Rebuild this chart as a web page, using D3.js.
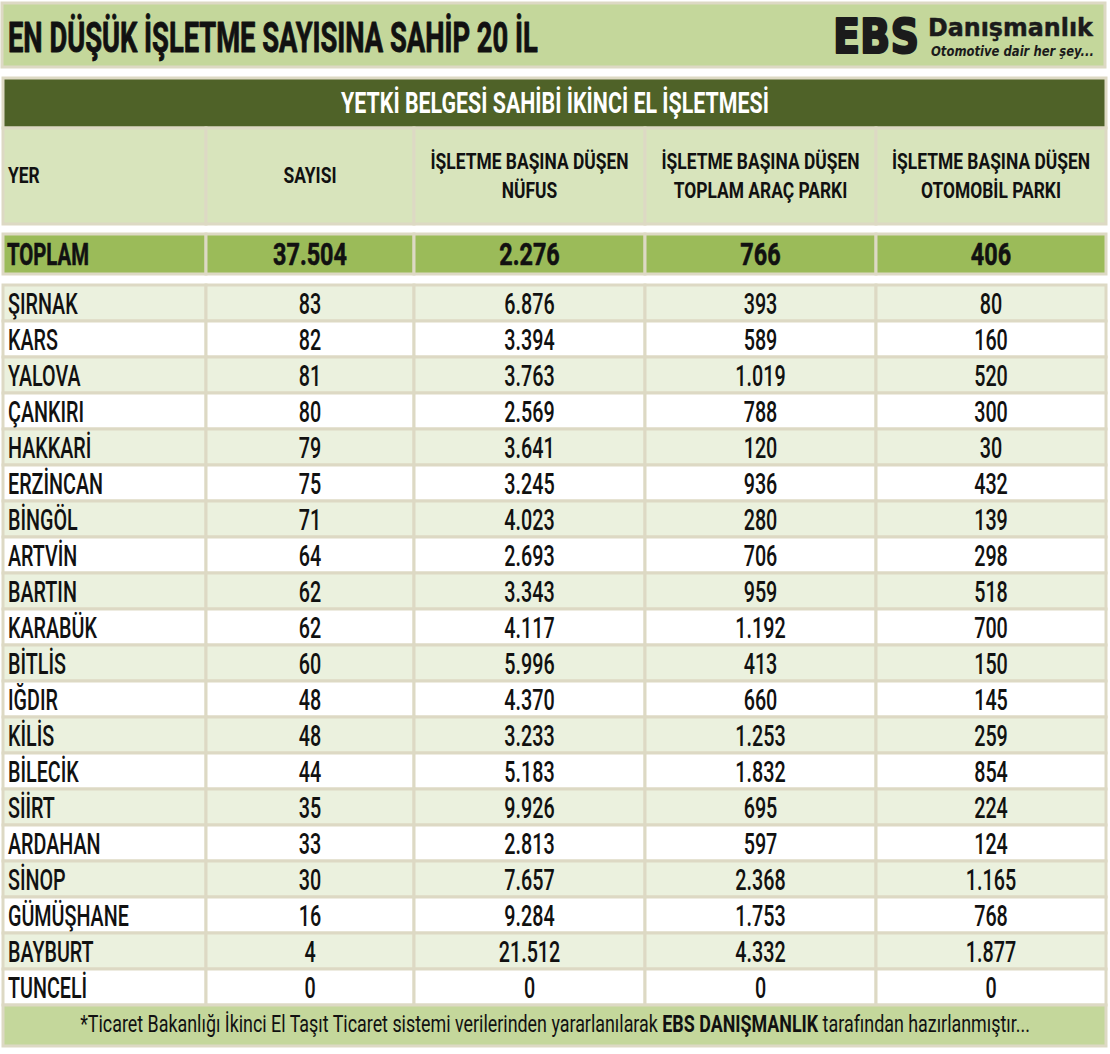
<!DOCTYPE html>
<html><head><meta charset="utf-8">
<script src="https://cdn.jsdelivr.net/npm/d3@7"></script>
<style>html,body{margin:0;padding:0;background:#fff;}svg{display:block;}</style>
</head><body>
<script>
const title = "EN DÜŞÜK İŞLETME SAYISINA SAHİP 20 İL";
const bandTitle = "YETKİ BELGESİ SAHİBİ İKİNCİ EL İŞLETMESİ";
const columnHeaders = [["YER"], ["SAYISI"], ["İŞLETME BAŞINA DÜŞEN", "NÜFUS"], ["İŞLETME BAŞINA DÜŞEN", "TOPLAM ARAÇ PARKI"], ["İŞLETME BAŞINA DÜŞEN", "OTOMOBİL PARKI"]];
const totalLabel = "TOPLAM";
const totals = [37504, 2276, 766, 406];
const provinces = ["ŞIRNAK","KARS","YALOVA","ÇANKIRI","HAKKARİ","ERZİNCAN","BİNGÖL","ARTVİN","BARTIN","KARABÜK","BİTLİS","IĞDIR","KİLİS","BİLECİK","SİİRT","ARDAHAN","SİNOP","GÜMÜŞHANE","BAYBURT","TUNCELİ"];
const counts = [83,82,81,80,79,75,71,64,62,62,60,48,48,44,35,33,30,16,4,0];
const populationPer = [6876,3394,3763,2569,3641,3245,4023,2693,3343,4117,5996,4370,3233,5183,9926,2813,7657,9284,21512,0];
const vehiclesPer = [393,589,1019,788,120,936,280,706,959,1192,413,660,1253,1832,695,597,2368,1753,4332,0];
const carsPer = [80,160,520,300,30,432,139,298,518,700,150,145,259,854,224,124,1165,768,1877,0];
const footerParts = [["*Ticaret Bakanlığı İkinci El Taşıt Ticaret sistemi verilerinden yararlanılarak ", false], ["EBS DANIŞMANLIK", true], [" tarafından hazırlanmıştır...", false]];
const logoMain = "EBS", logoName = "Danışmanlık", logoTag = "Otomotive dair her şey...";

const W = 1110, H = 1054;
const C = {border:"#ddd9c4", title:"#c4d79b", band:"#4f6228", head:"#d8e4bc", total:"#9bbb59", light:"#ebf1de", footer:"#c4d79b", ink:"#111"};
const FONT = "Roboto, 'DejaVu Sans', sans-serif";

const fmt = d3.formatLocale({decimal:",", thousands:".", grouping:[3], currency:["","₺"]}).format(",d");

const svg = d3.select("body").append("svg").attr("width", W).attr("height", H);

function measure(str, size, weight, family, style) {
  const t = svg.append("text").attr("font-family", family || FONT).attr("font-size", size)
    .attr("font-weight", weight).attr("font-style", style || "normal").text(str);
  const w = t.node().getComputedTextLength(); t.remove(); return w;
}
function label(parent, str, x, y, o) {
  const t = parent.append("text")
    .attr("transform", `translate(${x},${y}) scale(${o.sx},1)`)
    .attr("text-anchor", o.anchor || "middle")
    .attr("font-family", o.family || FONT).attr("font-size", o.size)
    .attr("font-weight", o.weight).attr("font-style", o.style || "normal")
    .attr("fill", o.fill || C.ink).text(str);
  if (o.sw) t.attr("stroke", o.fill || C.ink).attr("stroke-width", o.sw).attr("stroke-linejoin", "round");
  return t;
}

const S = {
  title: {size:42, weight:700, sw:0.9}, band: {size:30, weight:700, fill:"#fff"},
  head: {size:22.5, weight:700}, total: {size:32, weight:700, sw:0.6}, totalNum: {size:32, weight:700, sw:0.6},
  data: {size:29, weight:500}
};
S.title.sx = 530 / measure(title, 42, 700);
S.band.sx = 428 / measure(bandTitle, 30, 700);
S.head.sx = 198 / measure(columnHeaders[2][0], 22.5, 700);
S.total.sx = 82 / measure(totalLabel, 32, 700);
S.totalNum.sx = 74 / measure(fmt(totals[0]), 32, 700);
S.data.sx = 95 / measure("ERZİNCAN", 29, 500);

// Title box
svg.append("rect").attr("x", 2).attr("y", 3).attr("width", 1103).attr("height", 64)
  .attr("fill", C.title).attr("stroke", C.border).attr("stroke-width", 3);
label(svg, title, 8, 52, {...S.title, anchor:"start"});

// Logo
const lg = svg.append("g");
const ebsSx = 86 / measure(logoMain, 48, 900, "'DejaVu Sans'");
label(lg, logoMain, 833, 53, {size:48, weight:900, family:"'DejaVu Sans'", sx:ebsSx, anchor:"start", fill:"#1b1b1b", sw:2.2});
const nmSx = 165 / measure(logoName, 25, 700, "'DejaVu Sans'");
label(lg, logoName, 928, 36, {size:25, weight:700, family:"'DejaVu Sans'", sx:nmSx, anchor:"start", fill:"#1b1b1b", sw:0.5});
const tgSx = 163 / measure(logoTag, 14.5, 700, "'DejaVu Sans'", "italic");
label(lg, logoTag, 931, 56, {size:14.5, weight:700, family:"'DejaVu Sans'", style:"italic", sx:tgSx, anchor:"start", fill:"#1b1b1b"});

// Table geometry
const colEdges = [3, 206, 414, 645, 876, 1106];
const colX = i => colEdges[i], colW = i => colEdges[i+1] - colEdges[i];
const colC = i => (colEdges[i] + colEdges[i+1]) / 2;
const stroke = sel => sel.attr("stroke", C.border).attr("stroke-width", 3);

// Band
stroke(svg.append("rect").attr("x", 3).attr("y", 78).attr("width", 1103).attr("height", 50).attr("fill", C.band));
label(svg, bandTitle, 555, 113, S.band);

// Column headers
const hg = svg.append("g");
columnHeaders.forEach((lines, i) => {
  stroke(hg.append("rect").attr("x", colX(i)).attr("y", 128).attr("width", colW(i)).attr("height", 96).attr("fill", C.head));
  const x = i === 0 ? 8 : colC(i);
  const anchor = i === 0 ? "start" : "middle";
  if (lines.length === 1) label(hg, lines[0], x, 183, {...S.head, anchor});
  else lines.forEach((ln, k) => label(hg, ln, x, 169 + k * 29, {...S.head, anchor}));
});

// Total row
const tg = svg.append("g");
[totalLabel, ...totals.map(fmt)].forEach((v, i) => {
  stroke(tg.append("rect").attr("x", colX(i)).attr("y", 234).attr("width", colW(i)).attr("height", 40).attr("fill", C.total));
  if (i === 0) label(tg, v, 7, 265, {...S.total, anchor:"start"});
  else label(tg, v, colC(i), 265, S.totalNum);
});

// Data rows
const y = d3.scaleBand().domain(provinces).range([285, 1005]).padding(0);
const rows = provinces.map((p, i) => [p, fmt(counts[i]), fmt(populationPer[i]), fmt(vehiclesPer[i]), fmt(carsPer[i])]);
const rg = svg.append("g");
rows.forEach((r, ri) => {
  const top = y(provinces[ri]);
  r.forEach((v, i) => {
    stroke(rg.append("rect").attr("x", colX(i)).attr("y", top).attr("width", colW(i)).attr("height", y.bandwidth())
      .attr("fill", ri % 2 === 0 ? C.light : "#fff"));
  });
  r.forEach((v, i) => {
    label(rg, v, i === 0 ? 8 : colC(i), top + 28.5, {...S.data, anchor: i === 0 ? "start" : "middle"});
  });
});

// Footer
stroke(svg.append("rect").attr("x", 3).attr("y", 1005).attr("width", 1103).attr("height", 41).attr("fill", C.footer));
const ft = svg.append("text").attr("text-anchor", "middle").attr("font-family", FONT).attr("font-size", 23).attr("fill", C.ink);
footerParts.forEach(([s, b]) => ft.append("tspan").attr("font-weight", b ? 700 : 400).text(s));
const fw = ft.node().getComputedTextLength();
ft.attr("transform", `translate(555,1032) scale(${950 / fw},1)`);
</script>
</body></html>
